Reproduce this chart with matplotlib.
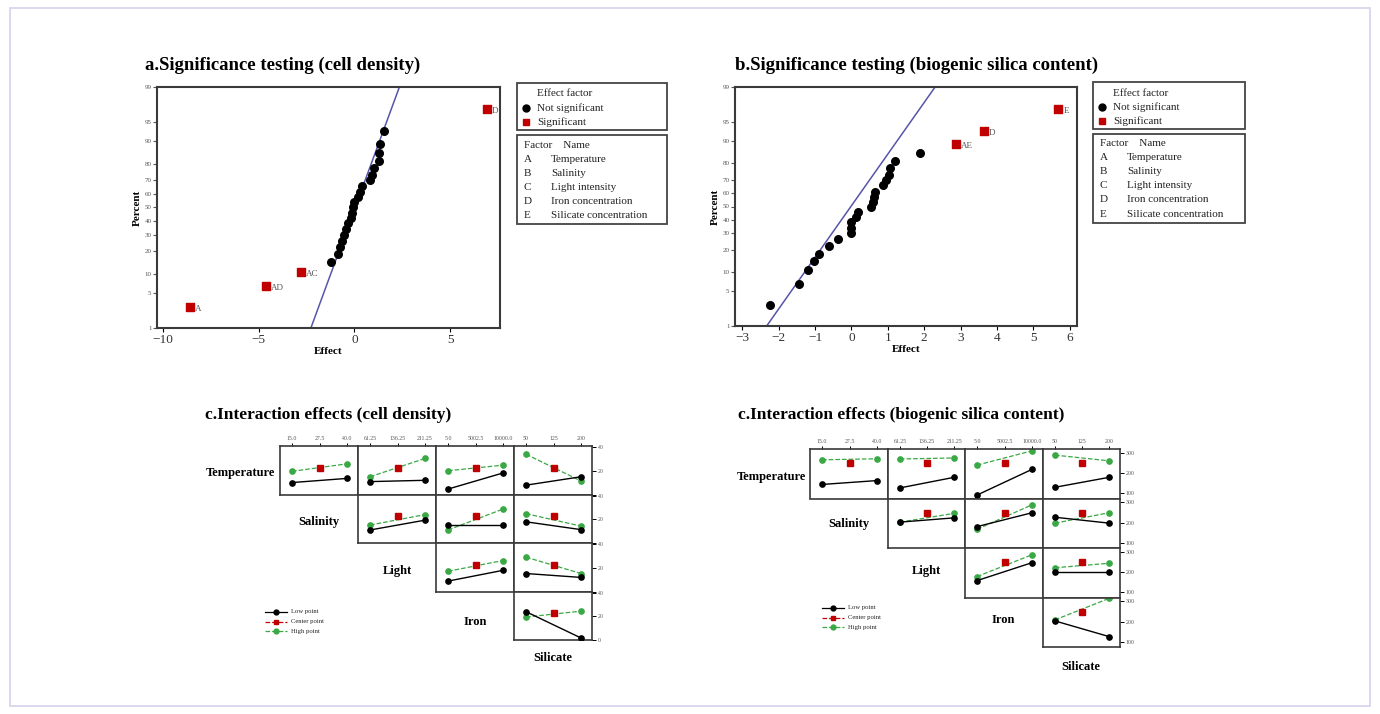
import matplotlib
matplotlib.use('Agg')
import matplotlib.pyplot as plt
from matplotlib.patches import Rectangle
from matplotlib.lines import Line2D
from statistics import NormalDist

plt.rcParams['font.family'] = ['Liberation Serif', 'DejaVu Serif']

W, H = 1380, 714

# ---- a. significance testing (cell density) ----
a_sig_names = ['A', 'AD', 'AC', 'D']
a_sig_effect = [-8.6, -4.6, -2.8, 6.9]
a_sig_pct = [2.7, 6.6, 10.8, 97.2]
a_ns_effect = [-1.22, -0.85, -0.75, -0.65, -0.56, -0.45, -0.32, -0.2, -0.12, -0.06, -0.02,
               0.2, 0.3, 0.38, 0.84, 0.9, 1.0, 1.26, 1.3, 1.32, 1.55]
a_ns_pct = [14.5, 18.4, 22, 26, 30, 34, 38, 42, 46, 50, 54,
            58, 62, 66, 70, 73.5, 77.5, 81.5, 85.5, 89, 93]
a_line_effect = [-2.27, 2.35]

# ---- b. significance testing (biogenic silica content) ----
b_sig_names = ['AE', 'D', 'E']
b_sig_effect = [2.87, 3.65, 5.69]
b_sig_pct = [88.9, 93, 97.1]
b_ns_effect = [-2.23, -1.43, -1.2, -1.02, -0.89, -0.61, -0.37, -0.02, -0.02, 0.0, 0.13,
               0.19, 0.54, 0.58, 0.63, 0.66, 0.88, 0.94, 1.02, 1.07, 1.2, 1.88]
b_ns_pct = [2.7, 6.6, 10.8, 14.5, 18, 22, 26.5, 30, 34, 38, 42,
            46, 50, 53.6, 57.6, 61.4, 66, 69.6, 72.9, 77.2, 81.4, 85.1]
b_line_effect = [-2.33, 2.3]

line_pct = [1, 99]
pct_ticks = [1, 5, 10, 20, 30, 40, 50, 60, 70, 80, 90, 95, 99]
factor_letters = ['A', 'B', 'C', 'D', 'E']
factor_names = ['Temperature', 'Salinity', 'Light intensity', 'Iron concentration',
                'Silicate concentration']

# ---- c. interaction effects ----
row_names = ['Temperature', 'Salinity', 'Light', 'Iron']
col_levels = [[15.0, 27.5, 40.0], [61.25, 136.25, 211.25], [5.0, 5002.5, 10000.0], [50, 125, 200]]
col_ticklabels = [['15.0', '27.5', '40.0'], ['61.25', '136.25', '211.25'],
                  ['5.0', '5002.5', '10000.0'], ['50', '125', '200']]
# panel order: (row, col) with col >= row
pairs = [(0, 0), (0, 1), (0, 2), (0, 3), (1, 1), (1, 2), (1, 3), (2, 2), (2, 3), (3, 3)]

cd_low = [[10.1, 13.6], [10.9, 12.0], [4.6, 18.2], [7.9, 15.0], [11.0, 19.3],
          [14.9, 14.9], [17.9, 11.3], [8.8, 17.9], [15.2, 11.9], [23.9, 1.7]]
cd_high = [[19.6, 25.9], [15.0, 30.5], [20.1, 24.8], [34.0, 11.4], [15.2, 24.0],
           [11.0, 28.7], [24.8, 14.3], [17.1, 26.2], [29.0, 15.2], [19.4, 24.4]]
cd_center = 22.5
cd_yticks = [0, 20, 40]

bs_low = [[144, 163], [127, 179], [92, 218], [130, 179], [202, 223],
          [180, 248], [226, 197], [158, 246], [200, 200], [203, 126]]
bs_high = [[265, 270], [269, 274], [239, 309], [288, 260], [202, 245],
           [167, 287], [197, 248], [178, 285], [221, 243], [208, 314]]
bs_center = 248
bs_yticks = [100, 200, 300]

nd = NormalDist()
def z(p):
    return [nd.inv_cdf(v / 100) for v in p]

fig = plt.figure(figsize=(W / 100, H / 100), dpi=100)

def px_axes(x0, y0, x1, y1):
    return fig.add_axes([x0 / W, 1 - y1 / H, (x1 - x0) / W, (y1 - y0) / H])

def px_text(x, y, s, **kw):
    fig.text(x / W, 1 - y / H, s, **kw)

def px_box(x0, y0, x1, y1):
    fig.patches.append(Rectangle((x0 / W, 1 - y1 / H), (x1 - x0) / W, (y1 - y0) / H,
                                 transform=fig.transFigure, fill=False,
                                 edgecolor='#444444', lw=1.3))

EDGE = '#3a3a3a'
RED = '#c00000'
GREEN = '#3aa845'


def normal_plot(box, xlim, xticks, ns_x, ns_p, sig_x, sig_p, sig_names, line_x, title, tx):
    ax = px_axes(*box)
    ax.plot(line_x, z(line_pct), color='#5555aa', lw=1.1, zorder=1)
    ax.scatter(ns_x, z(ns_p), s=30, color='black', zorder=3)
    ax.scatter(sig_x, z(sig_p), s=30, marker='s', color=RED, zorder=3)
    for x, p, n in zip(sig_x, sig_p, sig_names):
        ax.annotate(n, (x, z([p])[0]), xytext=(3.5, -3), textcoords='offset points',
                    fontsize=6.5, color='#555555')
    ax.set_xlim(*xlim)
    ax.set_ylim(z([1])[0], z([99])[0])
    ax.set_yticks(z(pct_ticks))
    ax.set_yticklabels([str(t) for t in pct_ticks], fontsize=5, color='#555555')
    ax.set_xticks(xticks)
    ax.set_xticklabels([str(t).replace('-', '\u2212') for t in xticks], fontsize=9.5, color='#333333')
    ax.tick_params(axis='y', length=3, width=0.8, pad=1, colors='#555555')
    ax.tick_params(axis='x', length=3, width=0.8, pad=1)
    for sp in ax.spines.values():
        sp.set_linewidth(1.5)
        sp.set_color(EDGE)
    ax.set_xlabel('Effect', fontsize=8, fontweight='bold', labelpad=1)
    ax.set_ylabel('Percent', fontsize=8, fontweight='bold', labelpad=2)
    px_text(tx, box[1] - 22, title, fontsize=13.5, fontweight='bold', va='center')
    return ax


def legend_boxes(x0, x1, y0):
    px_box(x0, y0, x1, y0 + 47)
    px_text(x0 + 20, y0 + 11, 'Effect factor', fontsize=8, va='center', color='#222222')
    fig.add_artist(Line2D([(x0 + 9) / W], [1 - (y0 + 25) / H], marker='o', color='black',
                          markersize=5, transform=fig.transFigure))
    px_text(x0 + 20, y0 + 25, 'Not significant', fontsize=8, va='center', color='#222222')
    fig.add_artist(Line2D([(x0 + 9) / W], [1 - (y0 + 39) / H], marker='s', color=RED,
                          markersize=5, transform=fig.transFigure))
    px_text(x0 + 20, y0 + 39, 'Significant', fontsize=8, va='center', color='#222222')
    y2 = y0 + 52
    px_box(x0, y2, x1, y2 + 89)
    px_text(x0 + 7, y2 + 10, 'Factor    Name', fontsize=8, va='center', color='#222222')
    for i, (l, n) in enumerate(zip(factor_letters, factor_names)):
        yy = y2 + 24 + i * 14
        px_text(x0 + 7, yy, l, fontsize=8, va='center', color='#222222')
        px_text(x0 + 34, yy, n, fontsize=8, va='center', color='#222222')


normal_plot((157, 87, 500, 328), (-10.3, 7.6), [-10, -5, 0, 5], a_ns_effect, a_ns_pct,
            a_sig_effect, a_sig_pct, a_sig_names, a_line_effect,
            'a.Significance testing (cell density)', 145)
legend_boxes(517, 667, 83)

normal_plot((735, 87, 1077, 326), (-3.2, 6.2), [-3, -2, -1, 0, 1, 2, 3, 4, 5, 6], b_ns_effect, b_ns_pct,
            b_sig_effect, b_sig_pct, b_sig_names, b_line_effect,
            'b.Significance testing (biogenic silica content)', 735)
legend_boxes(1093, 1245, 82)


def interaction_grid(xs, ys, low, high, center, ylim, yticks, title, tx, ty,
                     label_pos, leg_xy):
    px_text(tx, ty, title, fontsize=12.5, fontweight='bold', va='center')
    for k, (r, c) in enumerate(pairs):
        ax = px_axes(xs[c], ys[r], xs[c + 1], ys[r + 1])
        lv = col_levels[c]
        ax.plot([lv[0], lv[2]], high[k], '--o', color=GREEN, lw=0.9, markersize=3.8, zorder=2)
        ax.plot([lv[0], lv[2]], low[k], '-o', color='black', lw=1.0, markersize=3.8, zorder=3)
        ax.plot([lv[1]], [center], 's', color=RED, markersize=4, zorder=4)
        span = lv[2] - lv[0]
        ax.set_xlim(lv[0] - 0.22 * span, lv[2] + 0.2 * span)
        ax.set_ylim(*ylim)
        if r == 0:
            ax.xaxis.tick_top()
            ax.set_xticks(lv)
            ax.set_xticklabels(col_ticklabels[c], fontsize=4.2, color='#555555')
            ax.tick_params(axis='x', length=2.5, width=0.7, pad=1)
        else:
            ax.set_xticks([])
        if c == 3:
            ax.yaxis.tick_right()
            ax.set_yticks(yticks)
            labels = [str(t) for t in yticks]
            if r < 3 and yticks[0] <= ylim[0]:
                # bottom label would sit on top of the next row's top label
                labels[0] = ''
            ax.set_yticklabels(labels, fontsize=4.2, color='#555555')
            ax.tick_params(axis='y', length=3, width=0.7, pad=1)
        else:
            ax.set_yticks([])
        for sp in ax.spines.values():
            sp.set_linewidth(1.2)
            sp.set_color(EDGE)
    for name, (lx, ly, ha) in zip(row_names + ['Silicate'], label_pos):
        px_text(lx, ly, name, fontsize=9, fontweight='bold', va='center', ha=ha)
    lx, ly = leg_xy
    styles = [('-', 'o', 'black', 'Low point'), ('--', 's', RED, 'Center point'),
              ('--', 'o', GREEN, 'High point')]
    for i, (ls, mk, col, lab) in enumerate(styles):
        yy = 1 - (ly + i * 9.5) / H
        fig.add_artist(Line2D([lx / W, (lx + 22) / W], [yy, yy], ls=ls, color=col, lw=0.9,
                              transform=fig.transFigure))
        fig.add_artist(Line2D([(lx + 11) / W], [yy], marker=mk, color=col, markersize=3.5,
                              transform=fig.transFigure))
        px_text(lx + 26, ly + i * 9.5, lab, fontsize=4.8, va='center', color='#222222')


interaction_grid([280, 358, 436, 514, 592], [446, 494.5, 543, 591.5, 640], cd_low, cd_high,
                 cd_center, (0, 41), cd_yticks, 'c.Interaction effects (cell density)', 205, 415,
                 [(275, 473, 'right'), (319, 522, 'center'), (397, 571, 'center'),
                  (475, 622, 'center'), (553, 658, 'center')], (265, 612))

interaction_grid([810, 888, 965, 1043, 1120], [449, 498.5, 548, 597.5, 647], bs_low, bs_high,
                 bs_center, (75, 318), bs_yticks, 'c.Interaction effects (biogenic silica content)',
                 738, 415,
                 [(806, 477, 'right'), (849, 524, 'center'), (926, 571, 'center'),
                  (1003, 620, 'center'), (1081, 667, 'center')], (822, 608))

fig.patches.append(Rectangle((10 / W, 1 - 706 / H), 1360 / W, 698 / H, transform=fig.transFigure,
                             fill=False, edgecolor='#d4d2ea', lw=1.2))

fig.savefig('out.png', dpi=100)
